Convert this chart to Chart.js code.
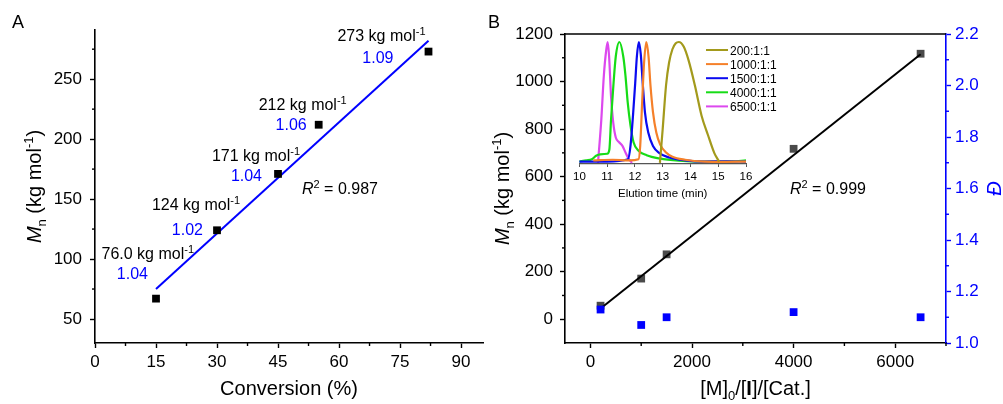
<!DOCTYPE html>
<html>
<head>
<meta charset="utf-8">
<script src="https://cdn.jsdelivr.net/npm/chart.js@4.4.1/dist/chart.umd.min.js"></script>
<style>
html, body { margin: 0; padding: 0; background: #fff; }
#wrap { position: relative; width: 1003px; height: 404px; }
canvas { position: absolute; }
</style>
</head>
<body>
<div id="wrap">
  <canvas id="chartA" width="500" height="404" style="left:0;top:0;"></canvas>
  <canvas id="chartB" width="523" height="404" style="left:480px;top:0;"></canvas>
  <canvas id="inset" width="215" height="170" style="left:570px;top:36px;"></canvas>
</div>
<script>
// panel A: Mn vs conversion
var conversion = [15, 30, 45, 55, 82];
var mnA = [67, 124, 171, 212, 273];
var mnLabelA = ['76.0', '124', '171', '212', '273'];
var dispLabelA = ['1.04', '1.02', '1.04', '1.06', '1.09'];
var fitA = [[15, 75], [82, 282]];
var r2A = '0.987';

// panel B: Mn and dispersity vs [M]0/[I]/[Cat.]
var ratio = [200, 1000, 1500, 4000, 6500];
var mnB = [57, 171, 273, 717, 1117];
var dispB = [1.13, 1.07, 1.10, 1.12, 1.10];
var fitB = [[200, 45], [6500, 1115]];
var r2B = '0.999';

// inset: GPC traces (elution time in min, normalised signal)
var gpcNames = ['200:1:1', '1000:1:1', '1500:1:1', '4000:1:1', '6500:1:1'];
var gpcColors = ['#a39a1c', '#f5802a', '#0a0af0', '#16dc16', '#dc48ee'];
var gpc200 = [[12.9, 0], [13.0, 0.28], [13.12, 0.64], [13.23, 0.83], [13.35, 0.94], [13.47, 0.99], [13.58, 1.0],
  [13.76, 0.96], [13.93, 0.85], [14.16, 0.64], [14.4, 0.39], [14.63, 0.23], [14.86, 0.08], [15.03, 0.01]];
var gpc1000 = [[10.5, 0.02], [11.2, 0.025], [11.8, 0.02], [12.13, 0.03], [12.19, 0.14], [12.26, 0.5], [12.33, 0.83], [12.41, 1.0],
  [12.49, 0.88], [12.56, 0.64], [12.65, 0.42], [12.77, 0.25], [12.91, 0.15], [13.12, 0.085], [13.35, 0.05],
  [13.81, 0.025], [14.5, 0.01], [15.2, 0.008], [16.0, 0.01]];
var gpc1500 = [[10.0, 0.01], [11.0, 0.01], [11.75, 0.03], [11.84, 0.14], [11.93, 0.39], [12.01, 0.66], [12.07, 0.88], [12.14, 1.0],
  [12.21, 0.9], [12.28, 0.66], [12.36, 0.42], [12.48, 0.25], [12.65, 0.14], [12.88, 0.08], [13.23, 0.044],
  [13.81, 0.02], [14.5, 0.01], [15.3, 0.012], [16.0, 0.01]];
var gpc4000 = [[10.0, 0.01], [10.25, 0.02], [10.45, 0.03], [10.6, 0.058], [10.75, 0.07], [11.0, 0.075], [11.08, 0.11], [11.14, 0.36],
  [11.23, 0.66], [11.31, 0.88], [11.44, 1.0], [11.58, 0.88], [11.66, 0.72], [11.74, 0.5], [11.84, 0.31],
  [11.95, 0.17], [12.13, 0.1], [12.42, 0.063], [12.88, 0.036], [13.58, 0.017], [14.5, 0.01], [15.5, 0.012], [16.0, 0.02]];
var gpc6500 = [[10.67, 0], [10.79, 0.36], [10.88, 0.72], [10.97, 0.94], [11.02, 1.0], [11.07, 0.88], [11.14, 0.55],
  [11.22, 0.33], [11.31, 0.21], [11.43, 0.17], [11.55, 0.14], [11.66, 0.085], [11.78, 0.03], [11.9, 0]];
var gpcTraces = [gpc200, gpc1000, gpc1500, gpc4000, gpc6500];

var FONT = '"Liberation Sans", Arial, sans-serif';
var BLUE = '#0000ff';

// label placement for panel A (pixels relative to each point: main right/centre, dispersity right/centre)
var labelOffA = [[38, -46, -8, -26], [23, -26, -14, -1], [22, -19, -16, 1], [28, -21, -12, -1], [-3, -17, -35, 5]];

function xy(a) { return a.map(function (p) { return { x: p[0], y: p[1] }; }); }

// fixed tick list: major ticks get labels, the ones in between are minor
function tickList(from, to, step) {
  return function (scale) {
    var t = [];
    for (var v = from; v <= to + step / 1000; v += step) t.push({ value: Math.round(v * 1000) / 1000 });
    scale.ticks = t;
  };
}

// major ticks are drawn by Chart.js, minor (unlabelled) ones shorter here
var minorTicks = {
  id: 'minorTicks',
  afterDraw: function (chart) {
    var ctx = chart.ctx;
    Object.keys(chart.scales).forEach(function (id) {
      var s = chart.scales[id];
      if (!s.options.display) return;
      var col = s.options.border.color;
      ctx.save();
      ctx.strokeStyle = col;
      ctx.lineWidth = 1.4;
      s.ticks.forEach(function (t) {
        if (t.label !== '') return;
        var p = s.getPixelForValue(t.value);
        ctx.beginPath();
        if (s.position === 'bottom') { ctx.moveTo(p, s.top); ctx.lineTo(p, s.top + 3); }
        else if (s.position === 'left') { ctx.moveTo(s.right, p); ctx.lineTo(s.right - 3, p); }
        else if (s.position === 'right') { ctx.moveTo(s.left, p); ctx.lineTo(s.left + 3, p); }
        ctx.stroke();
      });
      ctx.restore();
    });
  }
};

function majorColor(c) {
  return function (ctx) { return ctx.tick && ctx.tick.label === '' ? 'rgba(0,0,0,0)' : c; };
}

// draw a run of text pieces (sub/superscripts, italic) along one baseline
function drawRich(ctx, parts, x, y, align, rot, color) {
  ctx.save();
  ctx.translate(x, y);
  if (rot) ctx.rotate(rot);
  ctx.textBaseline = 'alphabetic';
  ctx.textAlign = 'left';
  var fonts = parts.map(function (p) {
    return (p.i ? 'italic ' : '') + (p.b ? 'bold ' : '') + p.s + 'px ' + FONT;
  });
  var widths = parts.map(function (p, k) { ctx.font = fonts[k]; return ctx.measureText(p.t).width; });
  var total = widths.reduce(function (a, b) { return a + b; }, 0);
  var cx = align === 'right' ? -total : (align === 'center' ? -total / 2 : 0);
  parts.forEach(function (p, k) {
    ctx.font = fonts[k];
    ctx.fillStyle = p.c || color || '#000';
    ctx.fillText(p.t, cx, p.dy || 0);
    cx += widths[k];
  });
  ctx.restore();
}

function mnTitle() {
  return [{ t: 'M', s: 20, i: true }, { t: 'n', s: 13, dy: 5 }, { t: ' (kg mol', s: 20 }, { t: '-1', s: 13, dy: -8 }, { t: ')', s: 20 }];
}

function tickFont() { return { family: FONT, size: 17 }; }

function axis(min, max, from, step, every, side, width, pad, color, fmt) {
  var o = {
    type: 'linear', min: min, max: max,
    border: { color: color, width: 1.6 },
    grid: { drawOnChartArea: false, color: majorColor(color), tickLength: 5, tickWidth: 1.4 },
    ticks: { autoSkip: false, maxRotation: 0, padding: pad, color: color, font: tickFont(),
      callback: function (v) {
        var k = Math.round((v - from) / step);
        return k % every === 0 ? fmt(v) : '';
      } },
    afterBuildTicks: tickList(from, max, step)
  };
  if (side === 'bottom') o.afterFit = function (s) { s.height = width; };
  else { o.position = side; o.afterFit = function (s) { s.width = width; }; }
  return o;
}

var panelA = {
  id: 'panelA',
  afterDraw: function (chart) {
    var ctx = chart.ctx, xs = chart.scales.x, ys = chart.scales.y, ca = chart.chartArea;
    for (var i = 0; i < conversion.length; i++) {
      var px = xs.getPixelForValue(conversion[i]);
      var py = ys.getPixelForValue(mnA[i]);
      var o = labelOffA[i];
      drawRich(ctx, [{ t: mnLabelA[i] + ' kg mol', s: 16 }, { t: '-1', s: 11, dy: -6 }], px + o[0], py + o[1] + 6, 'right');
      drawRich(ctx, [{ t: dispLabelA[i], s: 16 }], px + o[2], py + o[3] + 6, 'right', 0, BLUE);
    }
    drawRich(ctx, [{ t: 'R', s: 16, i: true }, { t: '2', s: 11, dy: -6 }, { t: ' = ' + r2A, s: 16 }], 302, 194, 'left');
    drawRich(ctx, mnTitle(), 40.5, (ca.top + ca.bottom) / 2, 'center', -Math.PI / 2);
    drawRich(ctx, [{ t: 'Conversion (%)', s: 20 }], (ca.left + ca.right) / 2, 395, 'center');
    drawRich(ctx, [{ t: 'A', s: 18 }], 12, 28, 'left');
  }
};

new Chart(document.getElementById('chartA'), {
  type: 'scatter',
  data: {
    datasets: [
      { data: conversion.map(function (c, i) { return { x: c, y: mnA[i] }; }),
        pointStyle: 'rect', pointRadius: 5.5, backgroundColor: '#000', borderWidth: 0, order: 0 },
      { data: xy(fitA), showLine: true, borderColor: BLUE, borderWidth: 2, pointRadius: 0, order: 1 }
    ]
  },
  options: {
    responsive: false, animation: false, devicePixelRatio: 1,
    layout: { autoPadding: false, padding: { left: 0, top: 30, right: 17, bottom: 0 } },
    plugins: { legend: { display: false }, tooltip: { enabled: false } },
    scales: {
      x: axis(0, 95.4, 0, 7.5, 2, 'bottom', 61, 4, '#000', String),
      y: axis(30, 291, 50, 25, 2, 'left', 95, 8, '#000', String)
    }
  },
  plugins: [panelA, minorTicks]
});

var panelB = {
  id: 'panelB',
  afterDraw: function (chart) {
    var ctx = chart.ctx, ca = chart.chartArea;
    ctx.save();
    ctx.strokeStyle = '#000';
    ctx.lineWidth = 1.6;
    ctx.beginPath();
    ctx.moveTo(ca.left, ca.top);
    ctx.lineTo(ca.right, ca.top);
    ctx.stroke();
    ctx.restore();
    drawRich(ctx, [{ t: 'R', s: 16, i: true }, { t: '2', s: 11, dy: -6 }, { t: ' = ' + r2B, s: 16 }], 310, 194, 'left');
    drawRich(ctx, mnTitle(), 29, (ca.top + ca.bottom) / 2, 'center', -Math.PI / 2);
    drawRich(ctx, [{ t: '\u0110', s: 20, i: true }], 521, (ca.top + ca.bottom) / 2, 'center', -Math.PI / 2, BLUE);
    drawRich(ctx, [{ t: '[M]', s: 20 }, { t: '0', s: 13, dy: 5 }, { t: '/[', s: 20 }, { t: 'I', s: 20, b: true }, { t: ']/[Cat.]', s: 20 }],
      (ca.left + ca.right) / 2, 395, 'center');
    drawRich(ctx, [{ t: 'B', s: 18 }], 8, 28, 'left');
  }
};

new Chart(document.getElementById('chartB'), {
  type: 'scatter',
  data: {
    datasets: [
      { data: ratio.map(function (r, i) { return { x: r, y: mnB[i] }; }), yAxisID: 'yL',
        pointStyle: 'rect', pointRadius: 5.5, backgroundColor: '#4a4a4a', borderWidth: 0, order: 2 },
      { data: xy(fitB), yAxisID: 'yL', showLine: true, borderColor: '#000', borderWidth: 2, pointRadius: 0, order: 1 },
      { data: ratio.map(function (r, i) { return { x: r, y: dispB[i] }; }), yAxisID: 'yR',
        pointStyle: 'rect', pointRadius: 5.5, backgroundColor: BLUE, borderWidth: 0, order: 0 }
    ]
  },
  options: {
    responsive: false, animation: false, devicePixelRatio: 1,
    layout: { autoPadding: false, padding: { left: 0, top: 34, right: 0, bottom: 0 } },
    plugins: { legend: { display: false }, tooltip: { enabled: false } },
    scales: {
      x: axis(-500, 7000, 0, 1000, 2, 'bottom', 61, 4, '#000', String),
      yL: axis(-100, 1200, 0, 100, 2, 'left', 85, 7, '#000', String),
      yR: axis(1.0, 2.2, 1.0, 0.1, 2, 'right', 57, 4, BLUE, function (v) { return v.toFixed(1); })
    }
  },
  plugins: [panelB, minorTicks]
});

var insetDeco = {
  id: 'insetDeco',
  afterDraw: function (chart) {
    var ctx = chart.ctx, ca = chart.chartArea;
    for (var i = 0; i < gpcNames.length; i++) {
      var y = 14 + i * 14.1;
      ctx.save();
      ctx.strokeStyle = gpcColors[i];
      ctx.lineWidth = 2;
      ctx.beginPath();
      ctx.moveTo(136, y);
      ctx.lineTo(158, y);
      ctx.stroke();
      ctx.restore();
      drawRich(ctx, [{ t: gpcNames[i], s: 12 }], 160, y + 4.5, 'left');
    }
    drawRich(ctx, [{ t: 'Elution time (min)', s: 11.5 }], (ca.left + ca.right) / 2, 161, 'center');
  }
};

new Chart(document.getElementById('inset'), {
  type: 'scatter',
  data: {
    datasets: gpcTraces.map(function (tr, i) {
      return { data: xy(tr), showLine: true, borderColor: gpcColors[i], borderWidth: 2.2, pointRadius: 0,
        cubicInterpolationMode: 'monotone', clip: false };
    })
  },
  options: {
    responsive: false, animation: false, devicePixelRatio: 1,
    layout: { autoPadding: false, padding: { left: 4, top: 6, right: 39, bottom: 0 } },
    plugins: { legend: { display: false }, tooltip: { enabled: false } },
    scales: {
      x: {
        type: 'linear', min: 10, max: 16,
        border: { color: '#555', width: 1.2 },
        grid: { drawOnChartArea: false, color: '#555', tickLength: 3, tickWidth: 1 },
        ticks: { autoSkip: false, maxRotation: 0, padding: 3, color: '#000', font: { family: FONT, size: 11.5 } },
        afterBuildTicks: tickList(10, 16, 1),
        afterFit: function (s) { s.height = 42; }
      },
      y: { type: 'linear', display: false, min: -0.01, max: 1.0 }
    }
  },
  plugins: [insetDeco]
});
</script>
</body>
</html>
